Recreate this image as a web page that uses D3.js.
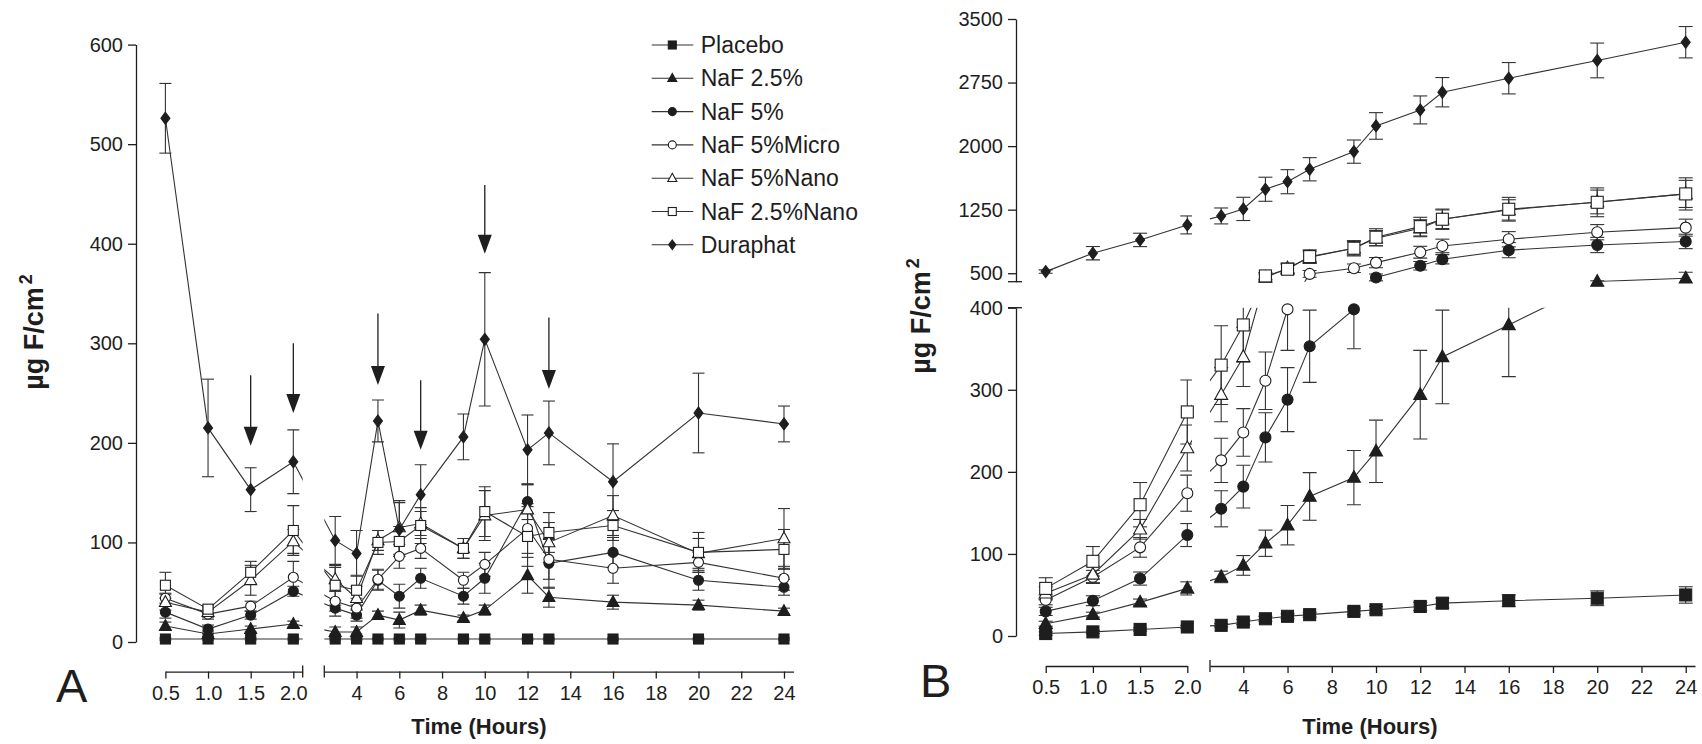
<!DOCTYPE html>
<html>
<head>
<meta charset="utf-8">
<script src="https://cdn.jsdelivr.net/npm/d3@7"></script>
<style>
  body { margin: 0; background: #fff; }
  svg { display: block; font-family: "Liberation Sans", Arial, sans-serif; }
</style>
</head>
<body>
<svg id="chart" width="1702" height="744"></svg>
<script>
// sampling times (hours), shared by both panels
const times = [0.5, 1, 1.5, 2, 3, 4, 5, 6, 7, 9, 10, 12, 13, 16, 20, 24];
const seriesNames = ['Placebo', 'NaF 2.5%', 'NaF 5%', 'NaF 5%Micro', 'NaF 5%Nano', 'NaF 2.5%Nano', 'Duraphat'];

// panel A: fluoride per interval (µg F/cm²), mean and SD
const placeboA   = [3, 3, 3, 3, 3, 3, 3, 3, 3, 3, 3, 3, 3, 3, 3, 3];
const placeboASd = [1, 1, 1, 1, 1, 1, 1, 1, 1, 1, 1, 1, 1, 1, 1, 1];
const naf25A     = [16, 8, 13, 18, 10, 10, 27, 22, 32, 24, 32, 67, 45, 40, 37, 31];
const naf25ASd   = [4, 3, 3, 3, 5, 5, 4, 8, 5, 3, 5, 18, 10, 7, 5, 3];
const naf5A      = [30, 13, 27, 51, 34, 27, 62, 46, 64, 46, 64, 141, 79, 90, 62, 55];
const naf5ASd    = [6, 4, 4, 5, 8, 6, 10, 12, 10, 8, 15, 18, 25, 15, 10, 8];
const microA     = [44, 28, 36, 65, 41, 34, 63, 86, 94, 62, 78, 114, 83, 74, 80, 64];
const microASd   = [5, 5, 5, 16, 10, 10, 10, 12, 10, 8, 12, 25, 20, 15, 10, 12];
const nanoA      = [40, 30, 62, 101, 63, 44, 102, 115, 119, 94, 127, 133, 100, 127, 89, 104];
const nanoASd    = [8, 5, 15, 12, 12, 12, 10, 27, 12, 10, 25, 25, 20, 20, 15, 30];
const nano25A    = [57, 33, 70, 112, 57, 52, 100, 101, 117, 94, 131, 106, 110, 117, 90, 93];
const nano25ASd  = [13, 4, 11, 25, 20, 15, 12, 15, 18, 10, 25, 30, 20, 15, 20, 20];
const durA       = [526, 215, 153, 181, 102, 89, 222, 113, 148, 206, 304, 193, 210, 161, 230, 219];
const durASd     = [35, 49, 22, 32, 24, 23, 21, 27, 30, 23, 67, 35, 32, 38, 40, 18];

// panel B: cumulative fluoride (µg F/cm²), mean and SD
const placeboB   = [3, 5, 8, 11, 13, 17, 21, 24, 26, 30, 32, 36, 40, 43, 46, 50];
const placeboBSd = [2, 2, 2, 2, 2, 3, 3, 3, 3, 4, 4, 5, 6, 7, 9, 10];
const naf25B     = [15, 26, 41, 58, 72, 86, 113, 135, 170, 193, 225, 294, 340, 379, 402, 440];
const naf25BSd   = [3, 3, 4, 8, 7, 12, 16, 24, 29, 33, 38, 54, 57, 63, 10, 71];
const naf5B      = [30, 43, 70, 123, 155, 182, 242, 288, 353, 398, 450, 588, 665, 772, 833, 875];
const naf5BSd    = [5, 6, 8, 14, 22, 26, 30, 39, 44, 48, 40, 50, 55, 90, 90, 85];
const microB     = [44, 72, 108, 174, 214, 248, 311, 398, 492, 559, 625, 748, 822, 901, 984, 1038];
const microBSd   = [6, 8, 12, 22, 27, 29, 35, 50, 40, 50, 60, 70, 80, 90, 90, 100];
const nanoB      = [52, 75, 130, 229, 294, 340, 450, 559, 689, 795, 913, 1031, 1137, 1247, 1341, 1436];
const nanoBSd    = [8, 10, 12, 28, 33, 36, 40, 60, 70, 80, 90, 100, 110, 120, 140, 160];
const nano25B    = [58, 91, 160, 273, 330, 379, 468, 547, 696, 795, 925, 1050, 1137, 1255, 1337, 1436];
const nano25BSd  = [13, 18, 27, 39, 48, 45, 40, 60, 80, 90, 100, 110, 120, 140, 170, 190];
const durB       = [519, 736, 893, 1070, 1176, 1259, 1491, 1580, 1727, 1935, 2238, 2427, 2636, 2801, 3011, 3226];
const durBSd     = [20, 79, 79, 106, 94, 137, 142, 142, 137, 137, 157, 165, 173, 185, 205, 185];

// axis ticks
const xTicksLeft = [0.5, 1, 1.5, 2];
const xTicksRight = [4, 6, 8, 10, 12, 14, 16, 18, 20, 22, 24];
const yTicksA = [0, 100, 200, 300, 400, 500, 600];
const yTicksBLow = [0, 100, 200, 300, 400];
const yTicksBUp = [500, 1250, 2000, 2750, 3500];

// application arrows in panel A (time, arrow top value, arrow tip value)
const arrowTimes = [1.5, 2, 5, 7, 10, 13];
const arrowTop = [268, 300, 330, 263, 459, 326];
const arrowTip = [197, 230, 258, 193, 390, 254];

const series = [
  { a: placeboA, aSd: placeboASd, b: placeboB, bSd: placeboBSd, shape: 'square', filled: true },
  { a: naf25A, aSd: naf25ASd, b: naf25B, bSd: naf25BSd, shape: 'triangle', filled: true },
  { a: naf5A, aSd: naf5ASd, b: naf5B, bSd: naf5BSd, shape: 'circle', filled: true },
  { a: microA, aSd: microASd, b: microB, bSd: microBSd, shape: 'circle', filled: false },
  { a: nanoA, aSd: nanoASd, b: nanoB, bSd: nanoBSd, shape: 'triangle', filled: false },
  { a: nano25A, aSd: nano25ASd, b: nano25B, bSd: nano25BSd, shape: 'square', filled: false },
  { a: durA, aSd: durASd, b: durB, bSd: durBSd, shape: 'diamond', filled: true },
];
series.forEach((s, i) => s.name = seriesNames[i]);

const INK = '#1e1e1e';
const LINE = '#333';
const svg = d3.select('#chart');
const defs = svg.append('defs');

function clipRect(id, x0, y0, x1, y1) {
  defs.append('clipPath').attr('id', id).append('rect')
    .attr('x', x0).attr('y', y0).attr('width', x1 - x0).attr('height', y1 - y0);
  return 'url(#' + id + ')';
}

function marker(g, shape, filled, x, y, s) {
  let el;
  if (shape === 'square') {
    el = g.append('rect').attr('x', x - s / 2).attr('y', y - s / 2).attr('width', s).attr('height', s);
  } else if (shape === 'circle') {
    el = g.append('circle').attr('cx', x).attr('cy', y).attr('r', s / 2);
  } else if (shape === 'triangle') {
    let h = s * 0.9;
    el = g.append('path').attr('d', `M${x},${y - h * 0.6}L${x + s / 2},${y + h * 0.4}L${x - s / 2},${y + h * 0.4}Z`);
  } else {
    el = g.append('path').attr('d', `M${x},${y - s * 0.6}L${x + s * 0.45},${y}L${x},${y + s * 0.6}L${x - s * 0.45},${y}Z`);
  }
  el.attr('fill', filled ? INK : '#fff').attr('stroke', INK).attr('stroke-width', 1.1);
}

function styleAxis(g, size) {
  g.select('.domain').attr('stroke', INK).attr('stroke-width', 1.3);
  g.selectAll('.tick line').attr('stroke', INK).attr('stroke-width', 1.3);
  g.selectAll('.tick text').attr('fill', INK).style('font-size', size + 'px')
    .style('font-family', '"Liberation Sans", Arial, sans-serif');
}

function hline(x0, x1, y) {
  svg.append('line').attr('x1', x0).attr('x2', x1).attr('y1', y).attr('y2', y)
    .attr('stroke', INK).attr('stroke-width', 1.3);
}
function vline(x, y0, y1) {
  svg.append('line').attr('x1', x).attr('x2', x).attr('y1', y0).attr('y2', y1)
    .attr('stroke', INK).attr('stroke-width', 1.3);
}

/**
 * draws one panel: lines clipped to each axis segment, error bars, symbols
 */
function drawPanel(p) {
  let regions = {};
  for (let k of Object.keys(p.clips)) {
    let c = p.clips[k];
    regions[k] = svg.append('g').attr('clip-path', clipRect(p.id + k, c[0], c[1], c[2], c[3]));
  }
  let symbols = svg.append('g');

  for (let s of series) {
    let vals = s[p.key], sds = s[p.key + 'Sd'];
    let pts = times.map((t, i) => {
      let left = t <= 2.05;
      let up = !!p.yUp && vals[i] >= p.split;
      let ys = up ? p.yUp : p.yLow;
      return {
        x: left ? p.xl(t) : p.xr(t),
        y: ys(vals[i]),
        yHi: ys(vals[i] + sds[i]),
        yLo: ys(Math.max(0, vals[i] - sds[i])),
        region: (left ? 'L' : 'R') + (up ? 'U' : 'D'),
      };
    });

    let path = d3.line()(pts.map(d => [d.x, d.y]));
    for (let k of Object.keys(regions)) {
      regions[k].append('path').attr('d', path).attr('fill', 'none')
        .attr('stroke', LINE).attr('stroke-width', 1.1);
    }
    for (let d of pts) {
      let g = regions[d.region];
      if (!g) continue;
      g.append('line').attr('x1', d.x).attr('x2', d.x).attr('y1', d.yHi).attr('y2', d.yLo)
        .attr('stroke', LINE).attr('stroke-width', 1.1);
      for (let yy of [d.yHi, d.yLo]) {
        g.append('line').attr('x1', d.x - p.cap / 2).attr('x2', d.x + p.cap / 2).attr('y1', yy).attr('y2', yy)
          .attr('stroke', LINE).attr('stroke-width', 1.1);
      }
    }
    s['pts' + p.key] = pts;
  }
  for (let s of series) {
    for (let d of s['pts' + p.key]) marker(symbols, s.shape, s.filled, d.x, d.y, p.sizes[s.shape]);
  }
}

// ---------- panel A ----------
const panelA = {
  id: 'clipA', key: 'a',
  xl: d3.scaleLinear().domain([0.5, 2.11]).range([165.4, 302.7]),
  xr: d3.scaleLinear().domain([2.49, 24.45]).range([324.3, 793.6]),
  yLow: d3.scaleLinear().domain([0, 600]).range([642, 44.6]),
  yUp: null,
  clips: { LD: [0, 0, 302.7, 744], RD: [324.3, 0, 860, 744] },
  cap: 12,
  sizes: { square: 10, circle: 10, triangle: 12, diamond: 10 },
};
drawPanel(panelA);

let axA = svg.append('g').attr('transform', 'translate(136,0)')
  .call(d3.axisLeft(panelA.yLow).tickValues(yTicksA).tickSize(8).tickPadding(5).tickSizeOuter(0));
styleAxis(axA, 20);
let axAxl = svg.append('g').attr('transform', 'translate(0,671.6)')
  .call(d3.axisBottom(panelA.xl).tickValues(xTicksLeft).tickFormat(d3.format('.1f')).tickSize(7).tickPadding(7).tickSizeOuter(0));
styleAxis(axAxl, 20);
let axAxr = svg.append('g').attr('transform', 'translate(0,671.6)')
  .call(d3.axisBottom(panelA.xr).tickValues(xTicksRight).tickFormat(d3.format('d')).tickSize(7).tickPadding(7).tickSizeOuter(0));
styleAxis(axAxr, 20);
vline(302.7, 665.6, 677.6);
vline(324.3, 665.6, 677.6);

// arrows
arrowTimes.forEach((t, i) => {
  let x = t <= 2.05 ? panelA.xl(t) : panelA.xr(t);
  let yTop = panelA.yLow(arrowTop[i]), yTip = panelA.yLow(arrowTip[i]);
  vline(x, yTop, yTip - 10);
  svg.append('path').attr('d', `M${x - 7},${yTip - 19}L${x + 7},${yTip - 19}L${x},${yTip}Z`).attr('fill', INK);
});

// legend
series.forEach((s, i) => {
  let y = 45 + i * 33.3;
  svg.append('line').attr('x1', 651.7).attr('x2', 693.3).attr('y1', y).attr('y2', y)
    .attr('stroke', LINE).attr('stroke-width', 1.1);
  marker(svg, s.shape, s.filled, 672.3, y, s.shape === 'circle' ? 8 : (s.shape === 'triangle' ? 9 : 8));
  svg.append('text').attr('x', 700.7).attr('y', y + 8).attr('fill', INK)
    .style('font-size', '23px').text(s.name);
});

// ---------- panel B ----------
const panelB = {
  id: 'clipB', key: 'b',
  xl: d3.scaleLinear().domain([0.5, 2]).range([1045.7, 1187.3]),
  xr: d3.scaleLinear().domain([2.495, 24.42]).range([1210, 1695]),
  yLow: d3.scaleLinear().domain([0, 400]).range([636, 307.7]),
  yUp: d3.scaleLinear().domain([400, 3500]).range([281.7, 19]),
  split: 400,
  clips: {
    LD: [860, 307.7, 1192, 744], LU: [860, 0, 1192, 281.7],
    RD: [1210, 307.7, 1702, 744], RU: [1210, 0, 1702, 281.7],
  },
  cap: 14,
  sizes: { square: 12, circle: 11, triangle: 13, diamond: 10 },
};
drawPanel(panelB);

let axBlow = svg.append('g').attr('transform', 'translate(1016,0)')
  .call(d3.axisLeft(panelB.yLow).tickValues(yTicksBLow).tickSize(8).tickPadding(5).tickSizeOuter(0));
styleAxis(axBlow, 20);
let axBup = svg.append('g').attr('transform', 'translate(1016,0)')
  .call(d3.axisLeft(panelB.yUp).tickValues(yTicksBUp).tickFormat(d3.format('d')).tickSize(8).tickPadding(5).tickSizeOuter(0));
styleAxis(axBup, 20);
hline(1008, 1022, 307.7);
hline(1008, 1022, 281.7);
let axBxl = svg.append('g').attr('transform', 'translate(0,666)')
  .call(d3.axisBottom(panelB.xl).tickValues(xTicksLeft).tickFormat(d3.format('.1f')).tickSize(7).tickPadding(7).tickSizeOuter(0));
styleAxis(axBxl, 20);
let axBxr = svg.append('g').attr('transform', 'translate(0,666)')
  .call(d3.axisBottom(panelB.xr).tickValues(xTicksRight).tickFormat(d3.format('d')).tickSize(7).tickPadding(7).tickSizeOuter(0));
styleAxis(axBxr, 20);
vline(1210, 660, 672);

// ---------- titles ----------
function yTitle(x, y) {
  let t = svg.append('text').attr('transform', `translate(${x},${y}) rotate(-90)`)
    .attr('text-anchor', 'middle').attr('fill', INK)
    .style('font-size', '27px').style('font-weight', 'bold');
  t.append('tspan').text('µg F/cm');
  t.append('tspan').attr('dx', 3).attr('dy', -11).style('font-size', '18px').text('2');
}
yTitle(43, 332);
yTitle(930, 316);

for (let [cx, y] of [[479, 734], [1370, 734]]) {
  svg.append('text').attr('x', cx).attr('y', y).attr('text-anchor', 'middle').attr('fill', INK)
    .style('font-size', '22px').style('font-weight', 'bold').text('Time (Hours)');
}

svg.append('text').attr('x', 56).attr('y', 702).attr('fill', INK).style('font-size', '47px').text('A');
svg.append('text').attr('x', 920).attr('y', 697).attr('fill', INK).style('font-size', '47px').text('B');
</script>
</body>
</html>
